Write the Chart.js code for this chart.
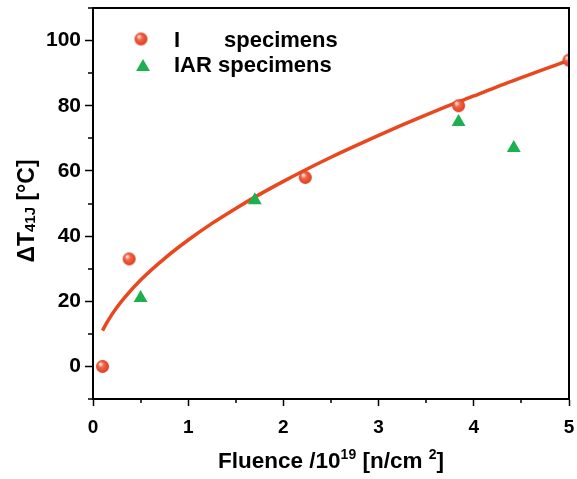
<!DOCTYPE html>
<html>
<head>
<meta charset="utf-8">
<script src="https://cdn.jsdelivr.net/npm/chart.js@4"></script>
<style>
  body { margin: 0; background: #fff; }
  canvas { display: block; }
</style>
</head>
<body>
<canvas id="chart" width="577" height="479"></canvas>
<script>
const iFluence = [0.1, 0.38, 2.23, 3.84, 5.0];
const iShift   = [0, 33, 58, 80, 94];
const iarFluence = [0.5, 1.7, 3.84, 4.42];
const iarShift   = [21, 51, 75, 67];
const fitFluence = [0.1, 0.15, 0.25, 0.5, 0.75, 1, 1.25, 1.5, 1.75, 2, 2.25, 2.5, 2.75, 3, 3.25, 3.5, 3.75, 4, 4.25, 4.5, 4.75, 5];
const fitShift   = [11, 13.7, 18.1, 26.5, 33.1, 38.8, 43.9, 48.5, 52.8, 56.8, 60.6, 64.2, 67.6, 70.9, 74.1, 77.2, 80.2, 83, 85.9, 88.6, 91.3, 94];
const xMajorTicks = [0, 1, 2, 3, 4, 5];
const yMajorTicks = [0, 20, 40, 60, 80, 100];

const FONT = "'Liberation Sans', Arial, Helvetica, sans-serif";
const RED = '#e8482a';
const LINE_RED = '#e9471e';
const GREEN = '#1cb04f';

function toPoints(xs, ys) {
    return xs.map((x, i) => ({ x: x, y: ys[i] }));
}

// shaded ball marker
function makeBall(r) {
    const c = document.createElement('canvas');
    c.width = r * 2 + 2;
    c.height = r * 2 + 2;
    const g = c.getContext('2d');
    const cx = c.width / 2, cy = c.height / 2;
    const grad = g.createRadialGradient(cx - r * 0.35, cy - r * 0.4, r * 0.1, cx, cy, r);
    grad.addColorStop(0, '#fde2d8');
    grad.addColorStop(0.35, '#ef6a4c');
    grad.addColorStop(0.8, RED);
    grad.addColorStop(1, '#d23a1c');
    g.fillStyle = grad;
    g.beginPath();
    g.arc(cx, cy, r, 0, Math.PI * 2);
    g.fill();
    return c;
}
const ball = makeBall(6.5);

// frame, minor ticks, axis titles, legend
const decorations = {
    id: 'decorations',
    afterDatasetsDraw(chart) {
        const ctx = chart.ctx;
        const a = chart.chartArea;
        const xs = chart.scales.x, ys = chart.scales.y;
        ctx.save();
        ctx.strokeStyle = '#000';
        ctx.lineWidth = 2;
        ctx.strokeRect(a.left, a.top, a.right - a.left, a.bottom - a.top);

        ctx.lineWidth = 1.5;
        ctx.beginPath();
        ys.ticks.forEach(t => {
            if (yMajorTicks.indexOf(t.value) >= 0) return;
            const py = Math.round(ys.getPixelForValue(t.value));
            ctx.moveTo(a.left, py);
            ctx.lineTo(a.left - 5, py);
        });
        xs.ticks.forEach(t => {
            if (xMajorTicks.indexOf(t.value) >= 0) return;
            const px = Math.round(xs.getPixelForValue(t.value));
            ctx.moveTo(px, a.bottom);
            ctx.lineTo(px, a.bottom + 4);
        });
        ctx.stroke();

        ctx.fillStyle = '#000';
        ctx.textBaseline = 'alphabetic';

        // x title with superscripts
        const big = 'bold 22.5px ' + FONT, small = 'bold 14px ' + FONT;
        const xParts = [
            ['Fluence /10', big, 0], ['19', small, -9], [' [n/cm ', big, 0], ['2', small, -9], [']', big, 0]
        ];
        let w = 0;
        xParts.forEach(p => { ctx.font = p[1]; w += ctx.measureText(p[0]).width; });
        let x0 = (a.left + a.right) / 2 - w / 2;
        xParts.forEach(p => {
            ctx.font = p[1];
            ctx.fillText(p[0], x0, 468 + p[2]);
            x0 += ctx.measureText(p[0]).width;
        });

        // y title with subscript
        const yParts = [['\u0394T', 'bold 23px ' + FONT, 0], ['41J', 'bold 15px ' + FONT, 1], [' [\u00b0C]', 'bold 23px ' + FONT, 0]];
        ctx.save();
        ctx.translate(34, 211);
        ctx.rotate(-Math.PI / 2);
        w = 0;
        yParts.forEach(p => { ctx.font = p[1]; w += ctx.measureText(p[0]).width; });
        let y0 = -w / 2;
        yParts.forEach(p => {
            ctx.font = p[1];
            ctx.fillText(p[0], y0, p[2]);
            y0 += ctx.measureText(p[0]).width;
        });
        ctx.restore();

        // legend
        ctx.drawImage(ball, 141 - ball.width / 2, 39 - ball.height / 2);
        ctx.fillStyle = GREEN;
        Chart.helpers.drawPoint(ctx, {
            pointStyle: 'triangle', radius: 8, borderWidth: 0, rotation: 0
        }, 143, 67);
        ctx.fillStyle = '#000';
        ctx.font = 'bold 22px ' + FONT;
        ctx.fillText('I', 174, 47);
        ctx.fillText('specimens', 224, 47);
        ctx.fillText('IAR specimens', 174, 72);
        ctx.restore();
    }
};

new Chart(document.getElementById('chart'), {
    type: 'scatter',
    data: {
        datasets: [{
            label: 'I specimens',
            data: toPoints(iFluence, iShift),
            pointStyle: ball,
            pointRadius: 7,
            pointHoverRadius: 7
        }, {
            label: 'IAR specimens',
            data: toPoints(iarFluence, iarShift),
            pointStyle: 'triangle',
            pointRadius: 8,
            pointHoverRadius: 8,
            backgroundColor: GREEN,
            borderColor: GREEN,
            borderWidth: 0
        }, {
            label: 'fit',
            data: toPoints(fitFluence, fitShift),
            showLine: true,
            borderColor: LINE_RED,
            borderWidth: 3.5,
            pointRadius: 0,
            cubicInterpolationMode: 'monotone'
        }]
    },
    options: {
        responsive: false,
        animation: false,
        layout: { padding: { left: 0, right: 8, top: 7, bottom: 0 } },
        plugins: { legend: { display: false }, tooltip: { enabled: false } },
        scales: {
            x: {
                type: 'linear',
                min: 0,
                max: 5,
                afterFit: s => { s.height = 80; s.paddingLeft = 0; s.paddingRight = 0; },
                ticks: {
                    stepSize: 0.5,
                    autoSkip: false,
                    maxRotation: 0,
                    padding: 10,
                    color: '#000',
                    font: { family: FONT, size: 19, weight: 'bold' },
                    callback: v => xMajorTicks.indexOf(v) >= 0 ? String(v) : ''
                },
                grid: {
                    drawOnChartArea: false,
                    tickLength: 7,
                    tickWidth: 1.5,
                    tickColor: c => xMajorTicks.indexOf(c.tick.value) >= 0 ? '#000' : 'rgba(0,0,0,0)'
                },
                border: { display: true, color: '#000', width: 2 }
            },
            y: {
                min: -10,
                max: 110,
                afterFit: s => { s.width = 93; s.paddingTop = 0; s.paddingBottom = 0; },
                ticks: {
                    stepSize: 10,
                    autoSkip: false,
                    padding: 4,
                    color: '#000',
                    font: { family: FONT, size: 21, weight: 'bold' },
                    callback: v => yMajorTicks.indexOf(v) >= 0 ? String(v) : ''
                },
                grid: {
                    drawOnChartArea: false,
                    tickLength: 8,
                    tickWidth: 1.5,
                    tickColor: c => yMajorTicks.indexOf(c.tick.value) >= 0 ? '#000' : 'rgba(0,0,0,0)'
                },
                border: { display: true, color: '#000', width: 2 }
            }
        }
    },
    plugins: [decorations]
});
</script>
</body>
</html>
